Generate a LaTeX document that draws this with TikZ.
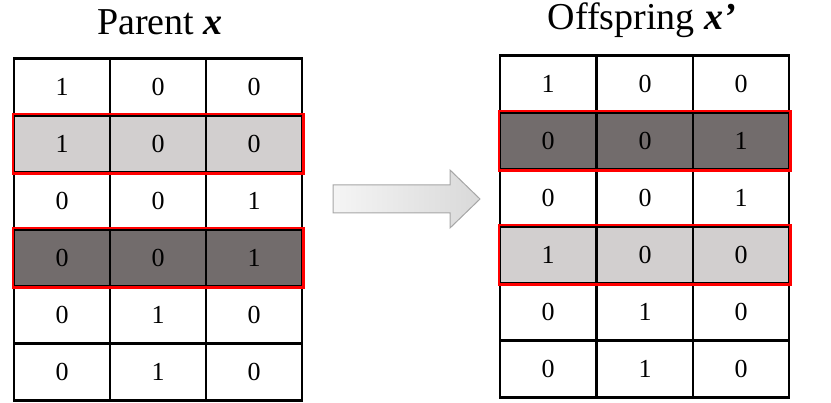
\documentclass[tikz,border=0pt]{standalone}
\usepackage{fontspec}
\setmainfont{Liberation Serif}
\begin{document}
\begin{tikzpicture}[x=1pt,y=-1pt,
  cell/.style={draw=black,line width=2.5pt,minimum width=96pt,minimum height=57pt,inner sep=0pt,font=\fontsize{26}{28}\selectfont},
  lite/.style={fill=light},
  dark/.style={fill=darkc},
  ttl/.style={font=\fontsize{38}{42}\selectfont}]
\definecolor{light}{HTML}{D2CFCF}
\definecolor{darkc}{HTML}{726C6C}
\useasboundingbox (0,0) rectangle (831,403);
\node[ttl] (t1) at (160,22) {Parent \textbf{\textit{x}}};
\node[ttl] (t2) at (642,20) {Offspring \textbf{\textit{x}}\textbf{\textit{'}}};
\foreach \r/\a/\b/\c/\s in {1/1/0/0/,2/1/0/0/lite,3/0/0/1/,4/0/0/1/dark,5/0/1/0/,6/0/1/0/}{
  \node[cell,\s] (L\r a) at (62,30+57*\r) {\a};
  \node[cell,\s] (L\r b) at (158,30+57*\r) {\b};
  \node[cell,\s] (L\r c) at (254,30+57*\r) {\c};
}
\foreach \r/\a/\b/\c/\s in {1/1/0/0/,2/0/0/1/dark,3/0/0/1/,4/1/0/0/lite,5/0/1/0/,6/0/1/0/}{
  \node[cell,\s] (R\r a) at (548,27+57*\r) {\a};
  \node[cell,\s] (R\r b) at (645,27+57*\r) {\b};
  \node[cell,\s] (R\r c) at (741,27+57*\r) {\c};
}
\draw[red,line width=2.5pt] (L2a.north west) rectangle (L2c.south east);
\draw[red,line width=2.5pt] (L4a.north west) rectangle (L4c.south east);
\draw[red,line width=2.5pt] (R2a.north west) rectangle (R2c.south east);
\draw[red,line width=2.5pt] (R4a.north west) rectangle (R4c.south east);
\draw[gray!70,line width=1pt,left color=gray!8,right color=gray!30]
  (333,185) -- (450,185) -- (450,170) -- (480,199) -- (450,228) -- (450,213) -- (333,213) -- cycle;
\end{tikzpicture}
\end{document}
